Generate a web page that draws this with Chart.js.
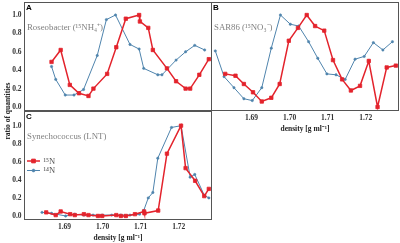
<!DOCTYPE html>
<html>
<head>
<meta charset="utf-8">
<script src="https://cdn.jsdelivr.net/npm/chart.js@4.4.1/dist/chart.umd.min.js"></script>
<style>
  html, body { margin: 0; padding: 0; background: #fff; }
  #wrap { position: relative; width: 400px; height: 243px; overflow: hidden; }
  canvas { position: absolute; }
  #ylab {
    position: absolute; left: -32.5px; top: 106px; width: 80px; height: 10px; line-height: 10px;
    text-align: center; transform: rotate(-90deg);
    font: bold 7.5px "Liberation Serif", serif; color: #222; white-space: nowrap;
  }
</style>
</head>
<body>
<div id="wrap">
  <canvas id="panelA" width="212" height="112" style="left:0;top:0"></canvas>
  <canvas id="panelB" width="189" height="136" style="left:211px;top:0"></canvas>
  <canvas id="panelC" width="212" height="133" style="left:0;top:110px"></canvas>
  <div id="ylab">ratio of quantities</div>
</div>
<script>
// axis ticks
const xTicks = [1.69, 1.70, 1.71, 1.72];
const yTicks = [0, 0.2, 0.4, 0.6, 0.8, 1.0];

// A: Roseobacter (15NH4+)
const aHeavyX = [1.6866, 1.6890, 1.6914, 1.6938, 1.6963, 1.6976, 1.7012, 1.7036, 1.7061, 1.7096, 1.7098, 1.7120, 1.7132, 1.7169, 1.7193, 1.7218, 1.7230, 1.7254, 1.7279];
const aHeavyY = [0.49, 0.62, 0.24, 0.15, 0.12, 0.20, 0.36, 0.65, 0.96, 1.00, 0.93, 0.86, 0.62, 0.42, 0.28, 0.20, 0.20, 0.35, 0.52];
const aLightX = [1.6866, 1.6877, 1.6902, 1.6925, 1.6950, 1.6986, 1.7010, 1.7034, 1.7072, 1.7096, 1.7108, 1.7145, 1.7156, 1.7193, 1.7218, 1.7242, 1.7268];
const aLightY = [0.44, 0.30, 0.13, 0.13, 0.19, 0.56, 0.95, 1.00, 0.68, 0.63, 0.42, 0.35, 0.35, 0.51, 0.60, 0.67, 0.62];

// B: SAR86 (15NO3-)
const bHeavyX = [1.6831, 1.6858, 1.6880, 1.6904, 1.6927, 1.6952, 1.6974, 1.6998, 1.7022, 1.7045, 1.7067, 1.7091, 1.7114, 1.7138, 1.7161, 1.7185, 1.7208, 1.7231, 1.7255, 1.7279];
const bHeavyY = [0.36, 0.34, 0.25, 0.16, 0.06, 0.10, 0.25, 0.72, 0.86, 1.00, 0.88, 0.83, 0.51, 0.30, 0.18, 0.23, 0.50, 0.00, 0.43, 0.45];
const bLightX = [1.6805, 1.6828, 1.6854, 1.6880, 1.6902, 1.6927, 1.6952, 1.6976, 1.7002, 1.7024, 1.7050, 1.7074, 1.7098, 1.7122, 1.7146, 1.7172, 1.7196, 1.7220, 1.7245, 1.7270];
const bLightY = [0.61, 0.33, 0.21, 0.09, 0.07, 0.21, 0.64, 1.00, 0.90, 0.88, 0.71, 0.53, 0.36, 0.35, 0.30, 0.52, 0.55, 0.70, 0.62, 0.71];

// C: Synechococcus (LNT)
const cHeavyX = [1.6852, 1.6877, 1.6890, 1.6915, 1.6927, 1.6951, 1.6963, 1.6988, 1.6999, 1.7036, 1.7048, 1.7061, 1.7085, 1.7109, 1.7110, 1.7146, 1.7169, 1.7206, 1.7218, 1.7243, 1.7267, 1.7279];
const cHeavyY = [0.04, 0.01, 0.05, 0.02, 0.01, 0.02, 0.01, 0.00, 0.00, 0.01, 0.00, 0.00, 0.02, 0.05, 0.03, 0.06, 0.69, 1.00, 0.53, 0.39, 0.22, 0.30];
const cLightX = [1.6841, 1.6866, 1.6903, 1.6927, 1.6951, 1.6975, 1.6999, 1.7024, 1.7048, 1.7072, 1.7097, 1.7108, 1.7120, 1.7132, 1.7145, 1.7181, 1.7206, 1.7230, 1.7242, 1.7267, 1.7279];
const cLightY = [0.04, 0.03, 0.00, 0.02, 0.01, 0.01, 0.01, 0.01, 0.01, 0.01, 0.02, 0.06, 0.20, 0.26, 0.64, 0.98, 1.00, 0.43, 0.46, 0.23, 0.20];

const xMin = 1.6795, xMax = 1.7286;
const RED = '#e3232c';
const BLUE = '#4f84ad';
const tickFont = {family: '"Liberation Serif", serif', size: 7.5, weight: 'bold'};
const titleFont = {family: '"Liberation Serif", serif', size: 7.5, weight: 'bold'};

function pts(xs, ys) {
    return xs.map((x, i) => ({x: x, y: ys[i]}));
}

function series(xh, yh, xl, yl) {
    return [
        {label: '\u00b9\u2075N', data: pts(xh, yh), borderColor: RED, backgroundColor: RED,
            borderWidth: 1.5, pointStyle: 'rect', pointRadius: 2.4, pointBorderWidth: 0.8, tension: 0},
        {label: '\u00b9\u2074N', data: pts(xl, yl), borderColor: BLUE, backgroundColor: BLUE,
            borderWidth: 1, pointStyle: 'circle', pointRadius: 1.2, pointBorderWidth: 0.5, tension: 0}
    ];
}

// frame, panel letter, subtitle and (optional) legend
const panelPlugin = {
    id: 'panel',
    afterDraw(chart, args, opts) {
        const ctx = chart.ctx, a = chart.chartArea;
        ctx.save();
        ctx.strokeStyle = '#555';
        ctx.lineWidth = 1;
        ctx.strokeRect(a.left, a.top, a.right - a.left, a.bottom - a.top);

        ctx.fillStyle = '#000';
        ctx.font = 'bold 8px "Liberation Sans", sans-serif';
        ctx.textBaseline = 'top';
        ctx.fillText(opts.letter, a.left + 1.5, a.top + 1);

        ctx.fillStyle = '#808080';
        ctx.font = '8.8px "Liberation Serif", serif';
        ctx.textBaseline = 'middle';
        ctx.fillText(opts.title, a.left + 2.5, a.top + 25);

        if (opts.legend) {
            chart.data.datasets.forEach((ds, i) => {
                const y = a.top + 49.5 + i * 9.5;
                const x0 = a.left + 2.5;
                ctx.strokeStyle = ds.borderColor;
                ctx.fillStyle = ds.backgroundColor;
                ctx.lineWidth = ds.borderWidth;
                ctx.beginPath();
                ctx.moveTo(x0, y);
                ctx.lineTo(x0 + 13, y);
                ctx.stroke();
                ctx.lineWidth = ds.pointBorderWidth;
                Chart.helpers.drawPoint(ctx, {pointStyle: ds.pointStyle, radius: ds.pointRadius + 0.3, rotation: 0, borderWidth: ds.pointBorderWidth}, x0 + 6.5, y);
                ctx.fillStyle = '#555';
                ctx.font = '8.5px "Liberation Serif", serif';
                ctx.textBaseline = 'middle';
                ctx.fillText(ds.label, x0 + 16.5, y + 0.5);
            });
        }
        ctx.restore();
    }
};

function yScale(min, max, show) {
    return {
        type: 'linear', min: min, max: max, display: show,
        grid: {display: false, drawTicks: false},
        border: {display: false},
        ticks: {font: tickFont, color: '#333', padding: 3, callback: v => Number(v).toFixed(1)},
        afterBuildTicks: s => { s.ticks = yTicks.map(v => ({value: v})); },
        afterFit: s => {
            s.width = show ? 24.5 : 0;
            s.paddingTop = 0;
            s.paddingBottom = 0;
        }
    };
}

function xScale(show, h, titlePad) {
    return {
        type: 'linear', min: xMin, max: xMax, display: show,
        grid: {display: false, drawTicks: false},
        border: {display: false},
        ticks: {font: tickFont, color: '#333', padding: 3.5, maxRotation: 0, autoSkip: false,
            callback: v => Number(v).toFixed(2)},
        afterBuildTicks: s => { s.ticks = xTicks.map(v => ({value: v})); },
        title: {display: true, text: 'density [g ml\u207b\u00b9]', font: titleFont, color: '#222',
            padding: {top: 0, bottom: titlePad}},
        afterFit: s => {
            s.height = h;
            s.paddingLeft = 0;
            s.paddingRight = 0;
        }
    };
}

function makePanel(id, datasets, panelOpts, scales, padding) {
    return new Chart(document.getElementById(id), {
        type: 'line',
        data: {datasets: datasets},
        options: {
            responsive: false,
            animation: false,
            devicePixelRatio: 1,
            layout: {padding: padding, autoPadding: false},
            scales: scales,
            plugins: {
                legend: {display: false},
                tooltip: {enabled: false},
                panel: panelOpts
            }
        },
        plugins: [panelPlugin]
    });
}

makePanel('panelA', series(aHeavyX, aHeavyY, aLightX, aLightY),
    {letter: 'A', title: 'Roseobacter (\u00b9\u2075NH\u2084\u207a)'},
    {x: xScale(false, 0, 0), y: yScale(-0.038, 1.136, true)},
    {left: 0, top: 2.5, right: 0.5, bottom: 1.5});

makePanel('panelB', series(bHeavyX, bHeavyY, bLightX, bLightY),
    {letter: 'B', title: 'SAR86 (\u00b9\u2075NO\u2083\u207b)'},
    {x: xScale(true, 25.5, 2.5), y: yScale(-0.038, 1.136, false)},
    {left: 0.5, top: 2.5, right: 1.5, bottom: 0});

makePanel('panelC', series(cHeavyX, cHeavyY, cLightX, cLightY),
    {letter: 'C', title: 'Synechococcus (LNT)', legend: true},
    {x: xScale(true, 23.5, 0.5), y: yScale(-0.039, 1.157, true)},
    {left: 0, top: 1.5, right: 0.5, bottom: 0});
</script>
</body>
</html>
